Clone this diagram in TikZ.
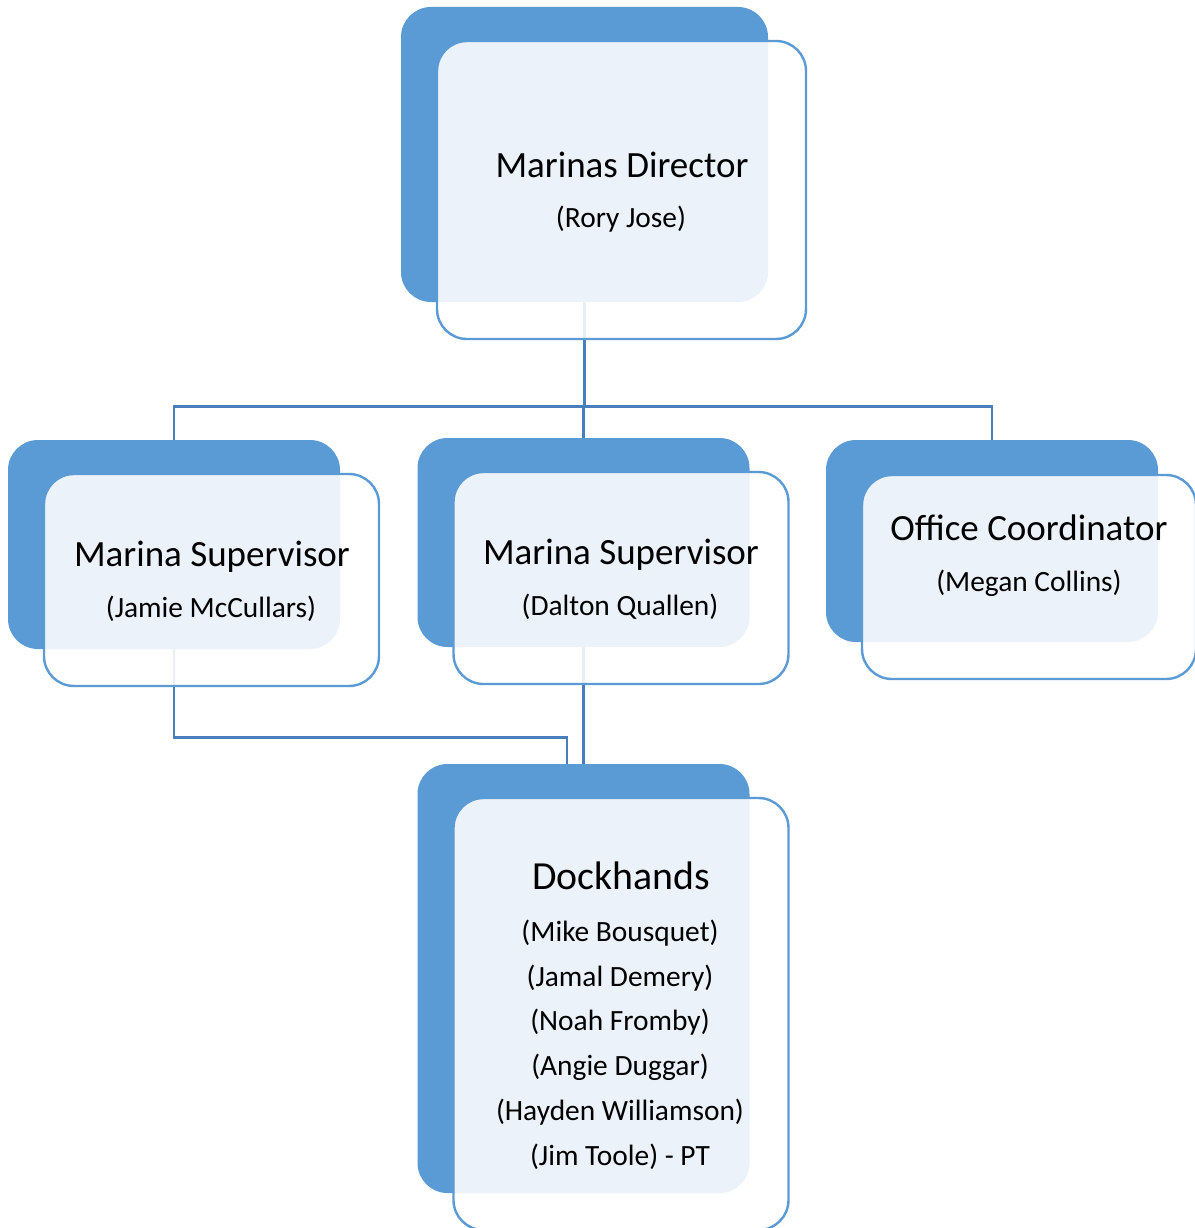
\documentclass[tikz,border=0pt]{standalone}
\usepackage{fontspec}
\setmainfont{Carlito}
\definecolor{boxblue}{RGB}{91,155,213}
\definecolor{edgeblue}{RGB}{91,155,213}
\definecolor{linkblue}{RGB}{72,126,187}
\begin{document}
\begin{tikzpicture}[x=1pt,y=-1pt,
  back/.style={fill=boxblue, draw=none, rounded corners=30pt, inner sep=0pt,
    minimum width=332pt, minimum height=209pt},
  front/.style={fill=white, fill opacity=0.88, draw=edgeblue, draw opacity=1,
    line width=2.4pt, rounded corners=30pt, inner sep=0pt,
    minimum width=335pt, minimum height=212pt},
  link/.style={draw=linkblue, line width=2.8pt},
  title/.style={anchor=base, inner sep=0pt, font=\fontsize{37}{44}\selectfont},
  sub/.style={anchor=base, inner sep=0pt, font=\fontsize{29.4}{35}\selectfont}]
\useasboundingbox (0,0) rectangle (1194,1228);
\fill[white] (0,0) rectangle (1194,1228);

% solid back panels
\node[back, minimum width=367pt, minimum height=295pt] (dirB) at (584.5,154.5) {};
\node[back] (sup1B) at (174,544.5) {};
\node[back] (sup2B) at (583.5,542.5) {};
\node[back, minimum height=202pt] (offB) at (992,541) {};
\node[back, minimum height=429pt] (dockB) at (583.5,978.5) {};

% reporting lines
\draw[link] (dirB.south) -- ++(0,105);
\draw[link] (sup1B.north) -- ++(0,-33) -| (offB.north);
\draw[link] (sup2B.north) -- ++(0,-31);
\draw[link] (sup1B.south) -- ++(0,88) -| ([xshift=-16.5pt]dockB.north);
\draw[link] (sup2B.south) -- (dockB.north);

% translucent front panels
\node[front, minimum width=369pt, minimum height=298pt] (dirF) at (621.5,190) {};
\node[front] (sup1F) at (211.5,580) {};
\node[front] (sup2F) at (621,578) {};
\node[front, minimum width=334pt, minimum height=204pt] (offF) at (1029,577) {};
\node[front, minimum height=432pt] (dockF) at (621,1014) {};

% labels
\node[title] (dirT) at (622,177) {Marinas Director};
\node[sub] (dirS) at (621,227) {(Rory Jose)};

\node[title] (sup1T) at (212,566) {Marina Supervisor};
\node[sub] (sup1S) at (211,617) {(Jamie McCullars)};

\node[title] (sup2T) at (621,564) {Marina Supervisor};
\node[sub] (sup2S) at (620,615) {(Dalton Quallen)};

\node[title] (offT) at (1029,540) {Office Coordinator};
\node[sub] (offS) at (1029,591) {(Megan Collins)};

\node[title, font=\fontsize{39.8}{46}\selectfont] (dockT) at (621,889) {Dockhands};
\node[sub] (dock1) at (620,941) {(Mike Bousquet)};
\node[sub] (dock2) at (620,986) {(Jamal Demery)};
\node[sub] (dock3) at (620,1030) {(Noah Fromby)};
\node[sub] (dock4) at (620,1075) {(Angie Duggar)};
\node[sub] (dock5) at (620,1120) {(Hayden Williamson)};
\node[sub] (dock6) at (620,1165) {(Jim Toole) - PT};
\end{tikzpicture}
\end{document}
